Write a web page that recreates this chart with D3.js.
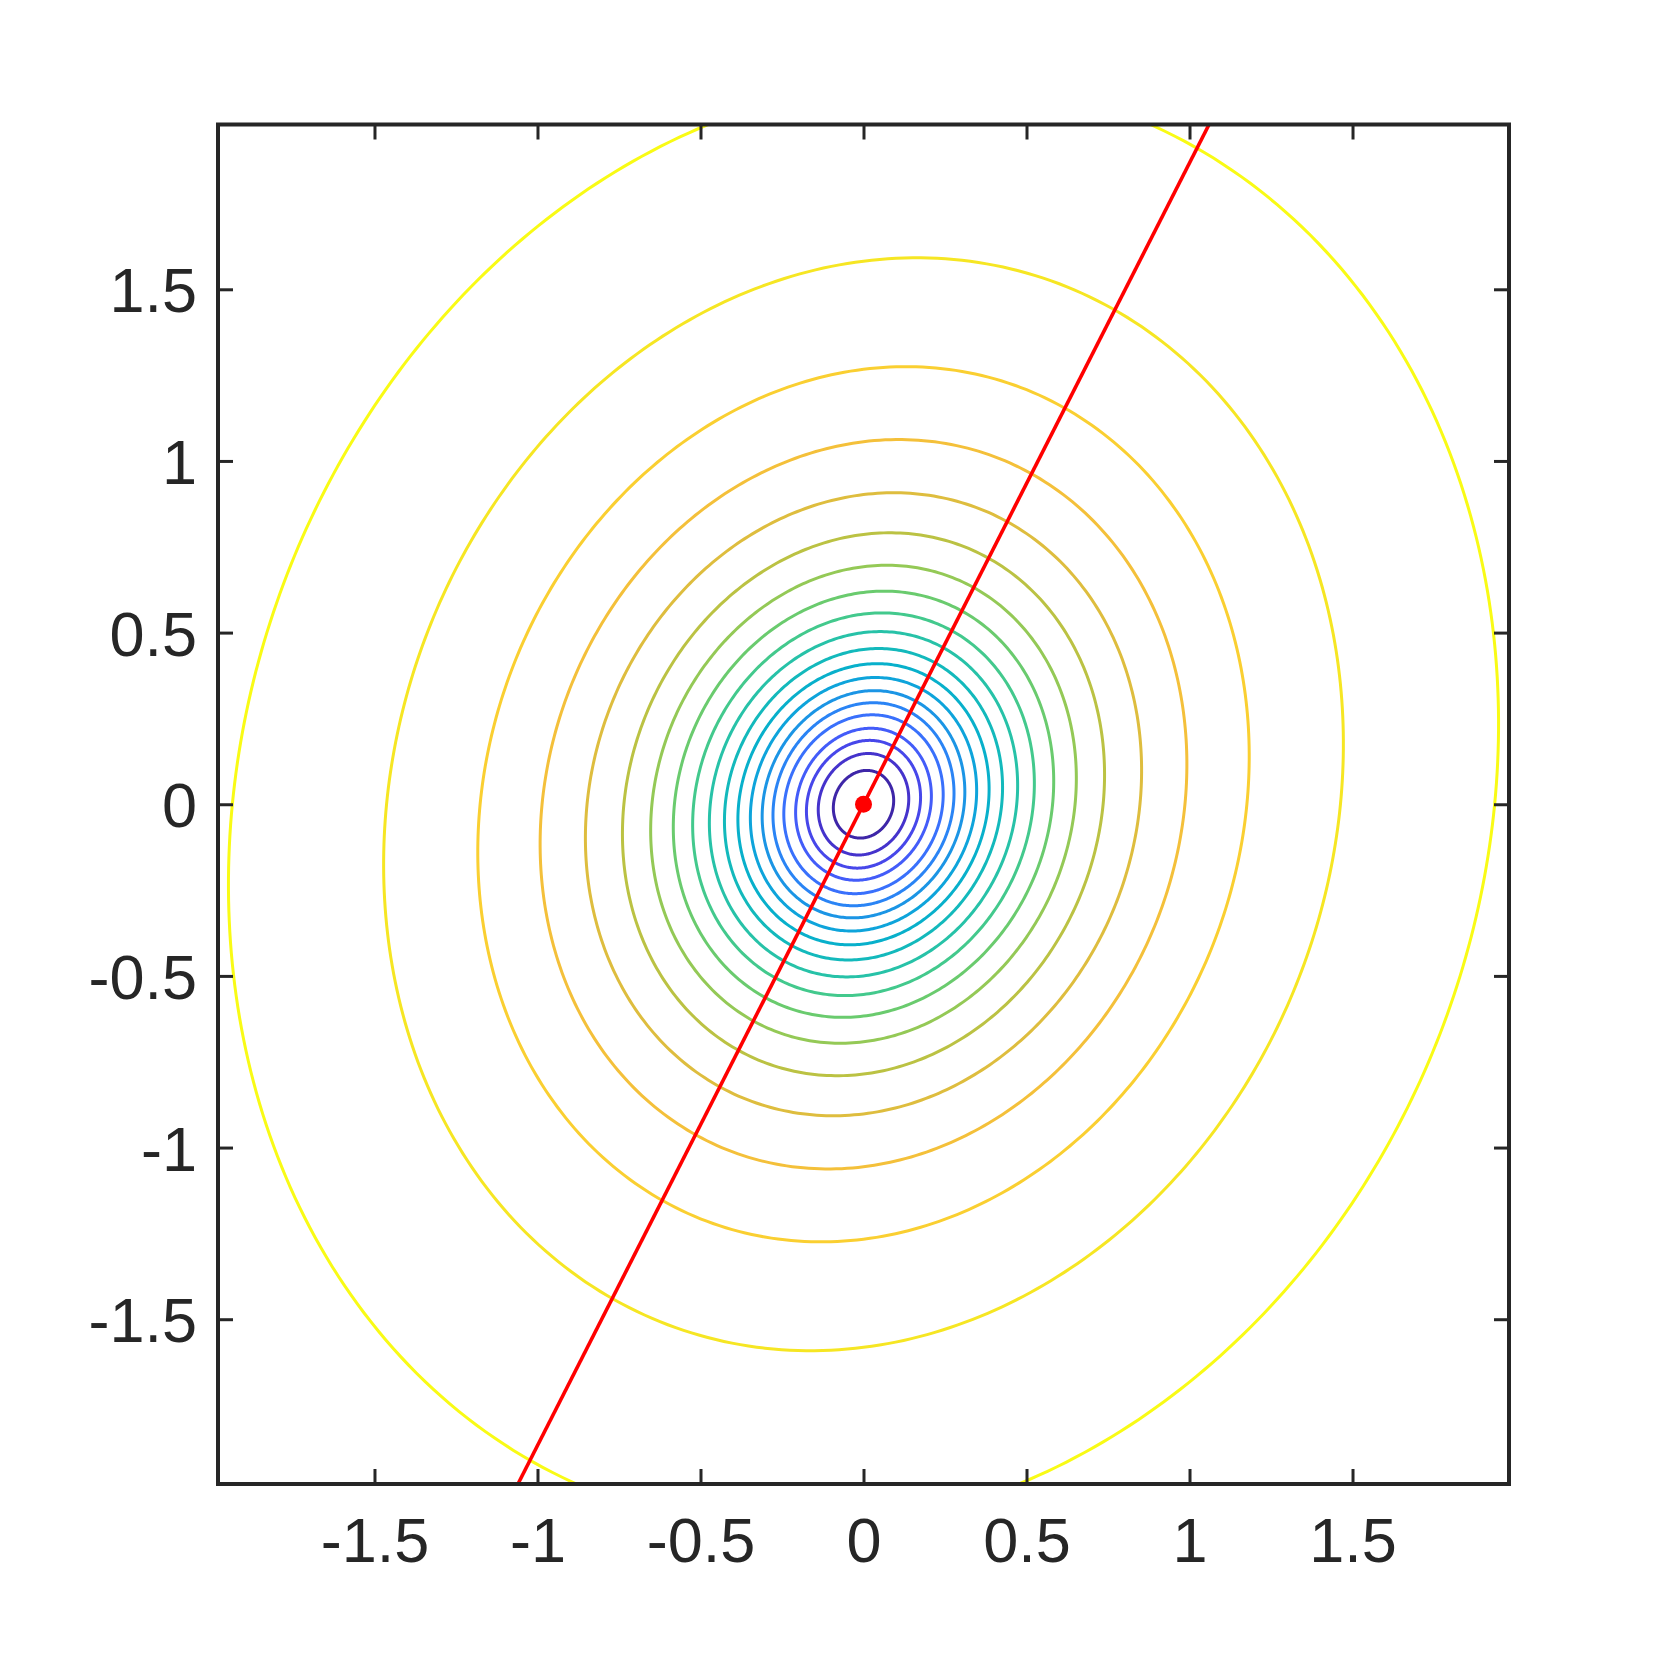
<!DOCTYPE html>
<html>
<head>
<meta charset="utf-8">
<script src="https://cdn.jsdelivr.net/npm/d3@7"></script>
<style>
  html, body { margin: 0; padding: 0; background: #fff; }
  svg { display: block; }
  .tick text { font-family: "Liberation Sans", Arial, Helvetica, sans-serif; font-size: 63px; fill: #262626; }
</style>
</head>
<body>
<svg id="chart" width="1667" height="1667"></svg>
<script>
// ---- data ----
const xDomain = [-1.98, 1.98];
const yDomain = [-1.98, 1.98];
const xTicks = [-1.5, -1, -0.5, 0, 0.5, 1, 1.5];
const yTicks = [-1.5, -1, -0.5, 0, 0.5, 1, 1.5];
// each level curve: its x-intercept on the line y = 0 and its y-intercept on the line x = 0
const contourXIntercepts = [0.092, 0.138, 0.174, 0.207, 0.243, 0.276, 0.309, 0.345, 0.383, 0.424,
                            0.470, 0.521, 0.580, 0.649, 0.735, 0.848, 0.986, 1.176, 1.463, 1.936];
const contourYIntercepts = [0.098, 0.147, 0.185, 0.220, 0.259, 0.294, 0.329, 0.367, 0.407, 0.451,
                            0.500, 0.554, 0.617, 0.692, 0.786, 0.902, 1.056, 1.267, 1.582, 2.101];
// shear of the level curves (x of the top point divided by its y)
const contourTilt = 0.102;
// red line and point
const redLine = [[-1.06, -1.98], [1.06, 1.98]];
const redPoint = [0, 0];
// parula colormap stops
const parulaStops = ["#3e26a8", "#4636d3", "#474ff4", "#4067fe", "#2e80f9", "#1c94e6", "#0ca6da",
                     "#07b4c6", "#1bbdb4", "#37c897", "#65cb71", "#97c954", "#c5c03f", "#ecbb3e",
                     "#fdc636", "#f5e226", "#f9fb15"];

// ---- layout ----
const L = 218, R = 1509, T = 124.5, B = 1484;
const svg = d3.select("#chart");
const x = d3.scaleLinear().domain(xDomain).range([L, R]);
const y = d3.scaleLinear().domain(yDomain).range([B, T]);
const colorScale = d3.scaleLinear()
  .domain(parulaStops.map((_, i) => i / (parulaStops.length - 1)))
  .range(parulaStops)
  .interpolate(d3.interpolateRgb);

svg.append("defs").append("clipPath").attr("id", "clip")
  .append("rect").attr("x", L).attr("y", T).attr("width", R - L).attr("height", B - T);

const plot = svg.append("g").attr("clip-path", "url(#clip)");

// points of the curve a*x^2 + 2*b*x*y + c*y^2 = 1
function ellipsePoints(rx, ry) {
  const a = 1 / (rx * rx), c = 1 / (ry * ry), b = -contourTilt * a;
  const pts = [];
  const n = 400;
  for (let k = 0; k < n; k++) {
    const th = 2 * Math.PI * k / n;
    const ux = Math.cos(th), uy = Math.sin(th);
    const q = a * ux * ux + 2 * b * ux * uy + c * uy * uy;
    const rho = 1 / Math.sqrt(q);
    pts.push([rho * ux, rho * uy]);
  }
  return pts;
}
const line = d3.line().x(d => x(d[0])).y(d => y(d[1])).curve(d3.curveLinearClosed);

plot.selectAll("path.contour")
  .data(contourXIntercepts)
  .join("path")
  .attr("class", "contour")
  .attr("d", (r, i) => line(ellipsePoints(r, contourYIntercepts[i])))
  .attr("fill", "none")
  .attr("stroke", (r, i) => colorScale(i / (contourXIntercepts.length - 1)))
  .attr("stroke-width", 3);

plot.append("path")
  .attr("d", d3.line().x(d => x(d[0])).y(d => y(d[1]))(redLine))
  .attr("fill", "none").attr("stroke", "#ff0000").attr("stroke-width", 3.6);

plot.append("circle")
  .attr("cx", x(redPoint[0])).attr("cy", y(redPoint[1])).attr("r", 8.5)
  .attr("fill", "#ff0000");

// ---- axes ----
const fmt = d => String(d);
const gx = svg.append("g").attr("transform", `translate(0,${B})`)
  .call(d3.axisBottom(x).tickValues(xTicks).tickFormat(fmt).tickSizeInner(-15).tickSizeOuter(0));
gx.selectAll("text").attr("y", 78).attr("dy", 0);
const gy = svg.append("g").attr("transform", `translate(${L},0)`)
  .call(d3.axisLeft(y).tickValues(yTicks).tickFormat(fmt).tickSizeInner(-15).tickSizeOuter(0));
gy.selectAll("text").attr("x", -21).attr("dy", "0.36em");
const gt = svg.append("g").attr("transform", `translate(0,${T})`)
  .call(d3.axisTop(x).tickValues(xTicks).tickFormat("").tickSizeInner(-15).tickSizeOuter(0));
const gr = svg.append("g").attr("transform", `translate(${R},0)`)
  .call(d3.axisRight(y).tickValues(yTicks).tickFormat("").tickSizeInner(-15).tickSizeOuter(0));
[gx, gy, gt, gr].forEach(g => {
  g.select(".domain").remove();
  g.selectAll(".tick line").attr("stroke", "#262626").attr("stroke-width", 3);
});

svg.append("rect")
  .attr("x", L).attr("y", T).attr("width", R - L).attr("height", B - T)
  .attr("fill", "none").attr("stroke", "#262626").attr("stroke-width", 4);
</script>
</body>
</html>
